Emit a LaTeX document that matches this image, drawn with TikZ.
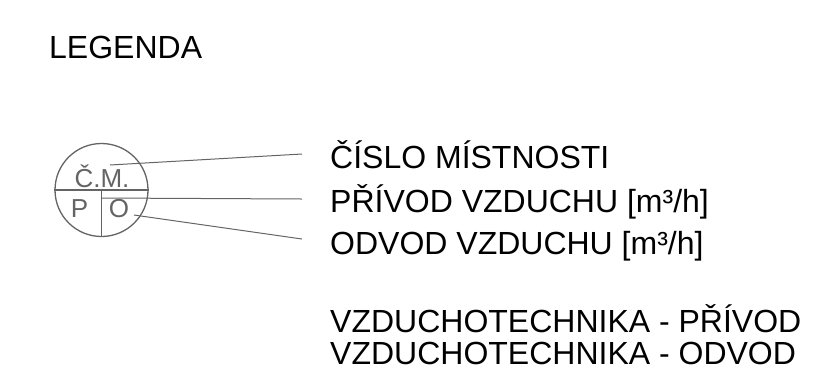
\documentclass[tikz,border=0pt]{standalone}
\usepackage{fontspec}
\setmainfont{Liberation Sans}
\definecolor{symgray}{RGB}{100,100,100}
\begin{document}
\begin{tikzpicture}[x=1bp,y=-1bp,
  lbl/.style={anchor=base west,inner sep=0pt,font=\fontsize{32bp}{32bp}\selectfont},
  gry/.style={draw=symgray,line width=1.3bp},
  sym/.style={text=symgray,inner sep=0pt,anchor=base,font=\fontsize{26bp}{26bp}\selectfont}]
\useasboundingbox (0,0) rectangle (816,382);
\node[lbl] (leg) at (49,58) {LEGENDA};
\node[circle,gry,minimum size=93bp,inner sep=0pt] (c) at (101.5,190) {};
\draw[gry] (c.west) -- (c.east);
\draw[gry] (c.center) -- (c.south);
\node[sym] (cm) at (102,187) {Č.M.};
\node[sym] (p) at (79.5,217) {P};
\node[sym] (o) at (119,217) {O};
\node[lbl] (t1) at (330,168) {ČÍSLO MÍSTNOSTI};
\node[lbl] (t2) at (330,212) {PŘÍVOD VZDUCHU [m³/h]};
\node[lbl] (t3) at (330,254) {ODVOD VZDUCHU [m³/h]};
\node[lbl] (t4) at (330,332) {VZDUCHOTECHNIKA - PŘÍVOD};
\node[lbl] (t5) at (330,364) {VZDUCHOTECHNIKA - ODVOD};
\coordinate (a1) at (110,165);
\coordinate (b1) at (302,154);
\coordinate (a2) at (102,198);
\coordinate (b2) at (302,199);
\coordinate (a3) at (134,215);
\coordinate (b3) at (302,239);
\draw[gry,line width=1bp] (a1) -- (b1);
\draw[gry,line width=1bp] (a2) -- (b2);
\draw[gry,line width=1bp] (a3) -- (b3);
\end{tikzpicture}
\end{document}
